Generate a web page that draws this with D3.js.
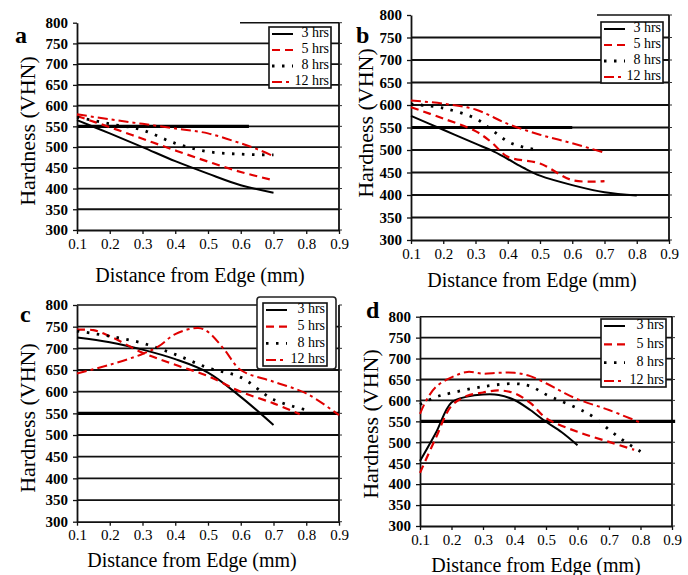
<!DOCTYPE html>
<html>
<head>
<meta charset="utf-8">
<script src="https://cdn.jsdelivr.net/npm/d3@7"></script>
<style>
  body { margin: 0; background: #fff; }
  svg, svg text { font-family: "Liberation Serif", "Times New Roman", Times, "DejaVu Serif", serif !important; }
</style>
</head>
<body>
<svg id="chart" width="688" height="575"></svg>
<script>
// ---- data ---------------------------------------------------------------
const seriesNames = ["3 hrs", "5 hrs", "8 hrs", "12 hrs"];
const xTickValues = [0.1, 0.2, 0.3, 0.4, 0.5, 0.6, 0.7, 0.8, 0.9];
const yTickValues = [300, 350, 400, 450, 500, 550, 600, 650, 700, 750, 800];
const xTitle = "Distance from Edge (mm)";
const yTitle = "Hardness (VHN)";
const caseDepthLevel = 550;

// panel a: [distance mm, hardness VHN]
const a3  = [[0.1,565],[0.2,533],[0.3,500],[0.4,466],[0.5,436],[0.6,408],[0.7,390]];
const a5  = [[0.1,575],[0.2,548],[0.3,520],[0.4,492],[0.5,465],[0.6,440],[0.7,420]];
const a8  = [[0.1,572],[0.2,556],[0.3,541],[0.4,509],[0.5,489],[0.6,483],[0.7,481]];
const a12 = [[0.1,579],[0.2,567],[0.3,556],[0.4,545],[0.5,533],[0.6,509],[0.65,495],[0.7,478]];

// panel b
const b3  = [[0.1,576],[0.2,545],[0.3,514],[0.35,499],[0.4,480],[0.45,460],[0.5,443],[0.6,422],[0.7,406],[0.8,399]];
const b5  = [[0.1,595],[0.2,570],[0.3,542],[0.35,517],[0.4,485],[0.5,470],[0.6,433],[0.7,431]];
const b8  = [[0.1,602],[0.2,593],[0.3,570],[0.35,545],[0.4,519],[0.45,506],[0.5,500]];
const b12 = [[0.1,610],[0.2,603],[0.3,590],[0.4,558],[0.5,534],[0.6,515],[0.7,494]];

// panel c
const c3  = [[0.1,725],[0.2,714],[0.3,697],[0.4,675],[0.5,644],[0.6,588],[0.7,523]];
const c5  = [[0.1,743],[0.15,742],[0.2,728],[0.3,690],[0.4,662],[0.5,636],[0.6,600],[0.7,573],[0.78,548]];
const c8  = [[0.1,740],[0.2,728],[0.3,712],[0.4,686],[0.5,655],[0.6,633],[0.7,582],[0.8,558]];
const c12 = [[0.1,642],[0.2,662],[0.3,687],[0.35,705],[0.4,733],[0.47,747],[0.5,738],[0.55,697],[0.6,650],[0.7,623],[0.8,596],[0.9,546]];

// panel d
const d3s = [[0.1,455],[0.15,522],[0.2,595],[0.25,609],[0.3,614],[0.35,613],[0.4,601],[0.45,577],[0.5,549],[0.55,524],[0.6,493]];
const d5  = [[0.1,427],[0.15,510],[0.2,587],[0.25,611],[0.3,619],[0.35,624],[0.4,617],[0.45,594],[0.5,558],[0.6,525],[0.7,501],[0.78,482]];
const d8  = [[0.1,590],[0.15,608],[0.2,618],[0.3,633],[0.4,640],[0.45,634],[0.5,614],[0.6,581],[0.65,561],[0.7,530],[0.75,502],[0.8,478]];
const d12 = [[0.1,568],[0.12,600],[0.15,632],[0.2,655],[0.25,668],[0.3,664],[0.35,666],[0.4,666],[0.45,658],[0.5,641],[0.55,621],[0.6,603],[0.7,577],[0.8,547]];

// end of the 550 VHN case-depth marker in each panel
const caseDepthEnds = [0.625, 0.6, 0.9, 0.91];

// ---- styles -------------------------------------------------------------
const serif = "'Liberation Serif', 'Times New Roman', Times, 'DejaVu Serif', serif";
const lineStyles = [
  { color: "#000",    width: 2.0, dash: null },
  { color: "#e00000", width: 2.2, dash: "8,5" },
  { color: "#000",    width: 2.8, dash: "2.5,7.5" },
  { color: "#e00000", width: 2.0, dash: "10,4,3,4" }
];

// ---- layout -------------------------------------------------------------
const panels = [
  { letter: "a", data: [a3, a5, a8, a12], caseEnd: caseDepthEnds[0],
    left: 77, right: 339, top: 22.7, bottom: 230,
    letterPos: [15, 43], yTitlePos: [30, 131], xTitlePos: [200, 277],
    topLine: [240, 339], legend: { x: 269, y: 27, w: 62, h: 61 } },
  { letter: "b", data: [b3, b5, b8, b12], caseEnd: caseDepthEnds[1],
    left: 411, right: 669, top: 15, bottom: 240,
    letterPos: [356, 43], yTitlePos: [368, 123], xTitlePos: [532, 282],
    topLine: [597, 669], legend: { x: 601, y: 22, w: 62, h: 61 } },
  { letter: "c", data: [c3, c5, c8, c12], caseEnd: caseDepthEnds[2],
    left: 77, right: 339, top: 305, bottom: 521.7,
    letterPos: [20, 322], yTitlePos: [30, 418], xTitlePos: [192, 562],
    topLine: [77, 257], legend: { x: 263, y: 303, w: 64, h: 63, outer: { x: 257, y: 297, w: 79, h: 72 } } },
  { letter: "d", data: [d3s, d5, d8, d12], caseEnd: caseDepthEnds[3],
    left: 420, right: 672, top: 316.7, bottom: 526,
    letterPos: [366, 318], yTitlePos: [373, 424], xTitlePos: [536, 567],
    topLine: [420, 672], legend: { x: 601, y: 319, w: 65, h: 68 } }
];

const svg = d3.select("#chart");

panels.forEach(p => {
  const x = d3.scaleLinear().domain([0.1, 0.9]).range([p.left, p.right]);
  const y = d3.scaleLinear().domain([300, 800]).range([p.bottom, p.top]);
  const g = svg.append("g");

  // horizontal gridlines
  g.append("g").selectAll("line")
    .data(yTickValues.filter(v => v > 300 && v < 800))
    .join("line")
      .attr("x1", p.left).attr("x2", p.right)
      .attr("y1", d => y(d)).attr("y2", d => y(d))
      .attr("stroke", "#111").attr("stroke-width", 1.8);

  // partial top frame line
  g.append("line")
    .attr("x1", p.topLine[0]).attr("x2", p.topLine[1])
    .attr("y1", y(800)).attr("y2", y(800))
    .attr("stroke", "#111").attr("stroke-width", 1.6);

  // right frame with small outer ticks
  g.append("line")
    .attr("x1", p.right).attr("x2", p.right)
    .attr("y1", y(800)).attr("y2", y(300))
    .attr("stroke", "#111").attr("stroke-width", 1.8);
  g.append("g").selectAll("line")
    .data(yTickValues)
    .join("line")
      .attr("x1", p.right).attr("x2", p.right + 3)
      .attr("y1", d => y(d)).attr("y2", d => y(d))
      .attr("stroke", "#333").attr("stroke-width", 1);

  // case-depth marker at 550 VHN
  g.append("line")
    .attr("x1", x(0.1)).attr("x2", x(p.caseEnd))
    .attr("y1", y(caseDepthLevel)).attr("y2", y(caseDepthLevel))
    .attr("stroke", "#000").attr("stroke-width", 3.2);

  // y axis
  const yAxis = g.append("g")
    .attr("transform", `translate(${p.left},0)`)
    .call(d3.axisLeft(y).tickValues(yTickValues).tickSize(4).tickSizeOuter(0).tickPadding(5));
  yAxis.attr("font-family", null);
  yAxis.select(".domain").attr("stroke", "#111").attr("stroke-width", 1.8);
  yAxis.selectAll(".tick line").attr("stroke", "#111").attr("stroke-width", 1.3);
  yAxis.selectAll(".tick text")
    .style("font-family", serif)
    .attr("font-size", 15).attr("font-weight", "bold").attr("fill", "#000");

  // x axis
  const xAxis = g.append("g")
    .attr("transform", `translate(0,${p.bottom})`)
    .call(d3.axisBottom(x).tickValues(xTickValues).tickFormat(d3.format(".1f"))
      .tickSize(4).tickSizeOuter(0).tickPadding(4));
  xAxis.attr("font-family", null);
  xAxis.select(".domain").attr("stroke", "#111").attr("stroke-width", 1.8);
  xAxis.selectAll(".tick line").attr("stroke", "#111").attr("stroke-width", 1.3);
  xAxis.selectAll(".tick text")
    .style("font-family", serif)
    .attr("font-size", 15).attr("fill", "#000");

  // series
  const lineGen = d3.line()
    .x(d => x(d[0])).y(d => y(d[1]))
    .curve(d3.curveCatmullRom.alpha(0.5));
  p.data.forEach((series, i) => {
    const s = lineStyles[i];
    g.append("path")
      .datum(series)
      .attr("d", lineGen)
      .attr("fill", "none")
      .attr("stroke", s.color)
      .attr("stroke-width", s.width)
      .attr("stroke-dasharray", s.dash);
  });

  // titles
  g.append("text")
    .attr("x", p.xTitlePos[0]).attr("y", p.xTitlePos[1])
    .attr("text-anchor", "middle").attr("dominant-baseline", "middle")
    .style("font-family", serif)
    .attr("font-size", 20).text(xTitle);
  g.append("text")
    .attr("transform", `translate(${p.yTitlePos[0]},${p.yTitlePos[1]}) rotate(-90)`)
    .attr("text-anchor", "middle").attr("dominant-baseline", "middle")
    .style("font-family", serif)
    .attr("font-size", 22).text(yTitle);
  g.append("text")
    .attr("x", p.letterPos[0]).attr("y", p.letterPos[1])
    .style("font-family", serif)
    .attr("font-size", 24).attr("font-weight", "bold").text(p.letter);

  // legend
  const L = p.legend;
  if (L.outer) {
    g.append("rect")
      .attr("x", L.outer.x).attr("y", L.outer.y)
      .attr("width", L.outer.w).attr("height", L.outer.h)
      .attr("rx", 3)
      .attr("fill", "#fff").attr("stroke", "#222").attr("stroke-width", 1.6);
  }
  g.append("rect")
    .attr("x", L.x).attr("y", L.y).attr("width", L.w).attr("height", L.h)
    .attr("fill", "#fff").attr("stroke", "#111").attr("stroke-width", 1.6);
  const rowStep = (L.h - 13) / 3;
  seriesNames.forEach((name, i) => {
    const cy = L.y + 7 + rowStep * i;
    const s = lineStyles[i];
    g.append("line")
      .attr("x1", L.x + 3).attr("x2", L.x + 24)
      .attr("y1", cy).attr("y2", cy)
      .attr("stroke", s.color).attr("stroke-width", s.width)
      .attr("stroke-dasharray", s.dash);
    g.append("text")
      .attr("x", L.x + L.w - 2).attr("y", cy)
      .attr("text-anchor", "end").attr("dominant-baseline", "middle")
      .style("font-family", serif)
      .attr("font-size", 14).text(name);
  });
});
</script>
</body>
</html>
